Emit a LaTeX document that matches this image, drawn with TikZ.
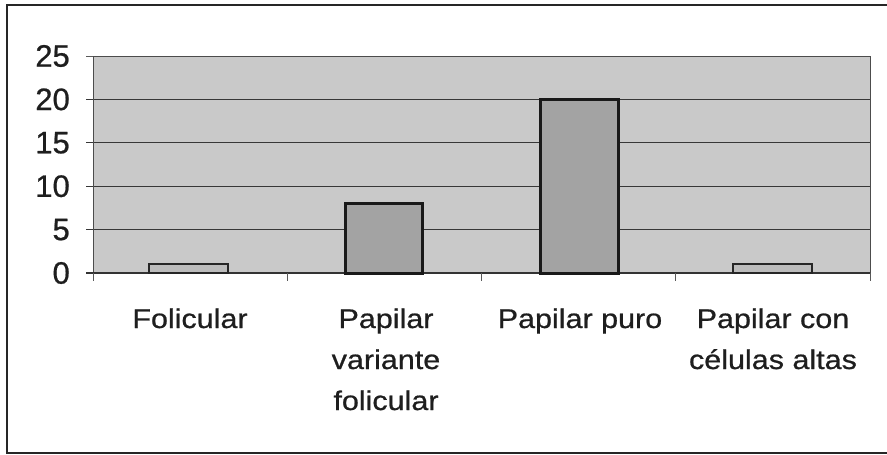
\documentclass[tikz,border=0pt]{standalone}
\usepackage{fontspec}
\setmainfont{Liberation Sans}
\newfontfamily\labfont{Liberation Sans}[FakeBold=0.7]
\usepackage{graphicx}
\definecolor{plotbg}{RGB}{201,201,201}
\definecolor{barfill}{RGB}{163,163,163}
\definecolor{smallbar}{RGB}{188,188,188}
\definecolor{gridc}{RGB}{55,55,55}
\definecolor{textc}{RGB}{30,30,30}
\tikzset{
  frameline/.style={line width=2pt, black!85},
  gridline/.style={line width=1.3pt, gridc},
  barbox/.style={draw=black!90, line width=3pt, fill=barfill},
  smallbarbox/.style={draw=black!85, line width=2.5pt, fill=smallbar},
  ylab/.style={anchor=east, inner sep=0pt, font=\labfont\fontsize{31}{31}\selectfont, text=textc},
  xlab/.style={anchor=base, inner sep=0pt, text=textc},
  tickline/.style={line width=1pt, gray!70!black}
}
\newcommand{\catlab}[1]{\scalebox{1.13}[1]{\labfont\fontsize{27}{41}\selectfont\begin{tabular}[t]{@{}c@{}}#1\end{tabular}}}
\begin{document}
\begin{tikzpicture}[x=1pt,y=-1pt]
\useasboundingbox (0,0) rectangle (887,455);
% outer frame (top, left, bottom)
\draw[frameline] (887,5) -- (7,5) -- (7,453) -- (887,453);
% plot area
\fill[plotbg] (93,56) rectangle (870,273);
% gridlines
\foreach \v in {5,10,15,20}{
  \draw[gridline] (86,{273-8.68*\v}) -- (870,{273-8.68*\v});
}
\draw[tickline] (86,56) -- (93,56);
\draw[line width=1pt, gray!60!black] (93,56) rectangle (870,273);
\draw[line width=1.5pt, black!80] (86,273) -- (870,273);
% x ticks
\foreach \x in {93,287.25,481.5,675.75,870}{
  \draw[tickline] (\x,273) -- (\x,281);
}
% bars
\draw[smallbarbox] (149,264) rectangle (228,273);
\draw[barbox] (345,203.5) rectangle (422,273);
\draw[barbox] (540,99.4) rectangle (618,273);
\draw[smallbarbox] (733,264) rectangle (812,273);
% y labels
\foreach \v in {0,5,10,15,20,25}{
  \node[ylab] (y\v) at (70,{273-8.68*\v}) {\v};
}
% category labels
\node[xlab] (c1) at (190,328) {\catlab{Folicular}};
\node[xlab] (c2) at (386,328) {\catlab{Papilar\\variante\\folicular}};
\node[xlab] (c3) at (580,328) {\catlab{Papilar puro}};
\node[xlab] (c4) at (773,328) {\catlab{Papilar con\\células altas}};
\end{tikzpicture}
\end{document}
